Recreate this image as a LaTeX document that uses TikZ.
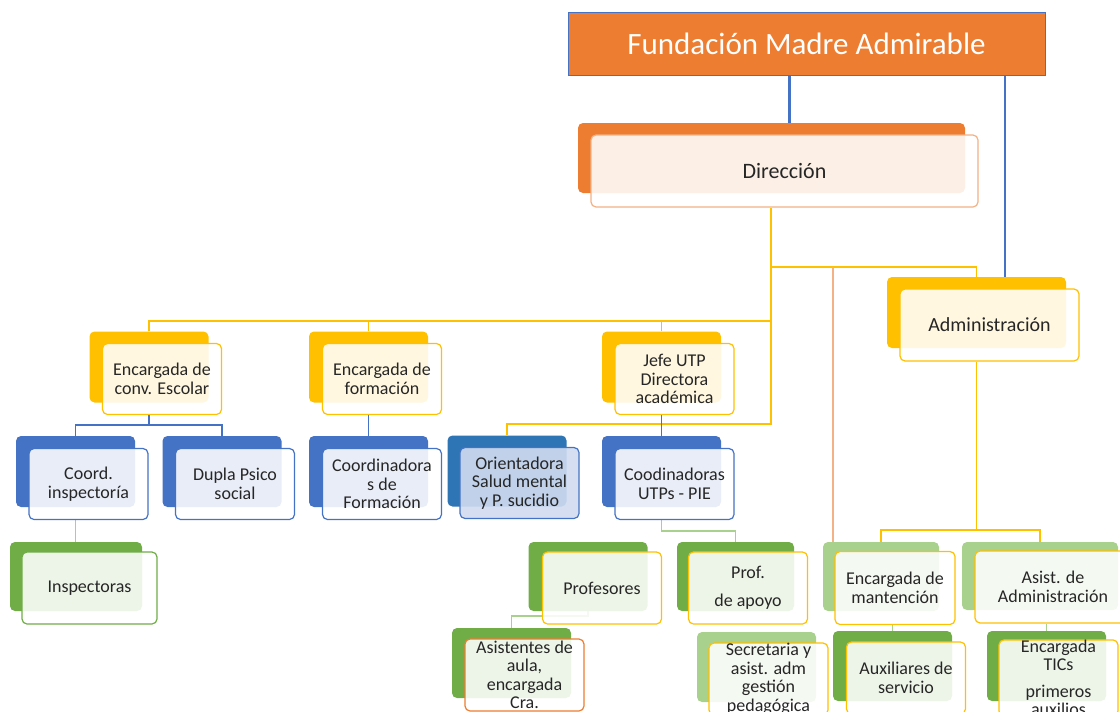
\documentclass[tikz,border=0pt]{standalone}
\usepackage{fontspec}
\setmainfont{Carlito}
\usetikzlibrary{backgrounds}

\definecolor{naranja}{HTML}{ED7D31}
\definecolor{naranjac}{HTML}{F4B183}
\definecolor{amarillo}{HTML}{FFC000}
\definecolor{azul}{HTML}{4472C4}
\definecolor{azulo}{HTML}{2E75B6}
\definecolor{azulc}{HTML}{D0DCEF}
\definecolor{verde}{HTML}{70AD47}
\definecolor{verdec}{HTML}{A9D18E}
\definecolor{texto}{HTML}{262626}

\begin{document}
\begin{tikzpicture}[x=1pt,y=-1pt,
	caja/.style={rounded corners=5pt, minimum width=119pt, minimum height=71pt, inner sep=0pt, align=center, text=texto, font=\fontsize{18}{18.5}\selectfont},
	fondo/.style={caja, fill=#1},
	frente/.style={caja, draw=#1, line width=1.2pt, fill=white, fill opacity=.88, text opacity=1},
	linea/.style={draw=#1, line width=1.6pt}]
	\useasboundingbox (0,0) rectangle (1120,712);

	\node [draw=azul, line width=.8pt, fill=naranja, minimum width=477pt, minimum height=63pt, text=white, font=\fontsize{31}{32}\selectfont] (fund) at (806.5,43.5) {Fundación Madre Admirable};

	\node [fondo=naranja, minimum width=387pt, minimum height=70pt] (dirb) at (771.5,158) {};
	\node [frente=naranjac, minimum width=387pt, minimum height=72pt, font=\fontsize{22}{24}\selectfont] (dir) at (784.5,171) {Dirección};
	\node [fondo=amarillo, minimum width=179pt] (admb) at (976.5,312.5) {};
	\node [frente=amarillo, minimum width=179pt, minimum height=72pt, font=\fontsize{20}{22}\selectfont] (adm) at (989.5,325) {Administración};

	\node [fondo=amarillo] (convb) at (149,367) {};
	\node [frente=amarillo] (conv) at (162,379) {Encargada de\\conv. Escolar};
	\node [fondo=amarillo] (formb) at (368.5,367) {};
	\node [frente=amarillo] (form) at (382,379) {Encargada de\\formación};
	\node [fondo=amarillo] (jefeb) at (661.5,367) {};
	\node [frente=amarillo] (jefe) at (674.5,379) {Jefe UTP\\Directora\\académica};

	\node [fondo=azul] (coordib) at (75.5,471.5) {};
	\node [frente=azul] (coordi) at (88.5,484) {Coord.\\inspectoría};
	\node [fondo=azul] (duplab) at (222,471.5) {};
	\node [frente=azul] (dupla) at (235,484) {Dupla Psico\\social};
	\node [fondo=azul] (coordfb) at (368.5,471.5) {};
	\node [frente=azul] (coordf) at (382,484) {Coordinadora\\s de\\Formación};
	\node [fondo=azulo] (orientb) at (507,471) {};
	\node [frente=azul, fill=azulc, fill opacity=.9] (orient) at (519.5,483) {Orientadora\\Salud mental\\y P. sucidio};
	\node [fondo=azul] (coodub) at (661.5,471.5) {};
	\node [frente=azul] (coodu) at (674.5,484) {Coodinadoras\\UTPs - PIE};

	\node [fondo=verde, minimum width=132pt, minimum height=69pt] (inspb) at (76,576.5) {};
	\node [frente=verde, minimum width=135pt, minimum height=72pt] (insp) at (89.5,588) {Inspectoras};
	\node [fondo=verde, minimum height=69pt] (profb) at (588,576.5) {};
	\node [frente=amarillo, minimum height=72pt] (prof) at (602,588) {Profesores};
	\node [fondo=verde, minimum width=117pt, minimum height=69pt] (apoyob) at (735.5,576.5) {};
	\node [frente=amarillo, minimum height=72pt] (apoyo) at (748,588) {Prof.\\[10pt]de apoyo};
	\node [fondo=verdec, minimum width=116pt, minimum height=69pt] (mantb) at (881,576.5) {};
	\node [frente=amarillo, minimum width=120pt, minimum height=73pt] (mant) at (895,588) {Encargada de\\mantención};
	\node [fondo=verdec, minimum width=156pt, minimum height=68pt] (asistb) at (1040,576) {};
	\node [frente=amarillo, minimum width=156pt, minimum height=72pt] (asist) at (1053,587) {Asist. de\\Administración};

	\node [fondo=verde, minimum height=70pt] (aulab) at (511.5,663) {};
	\node [frente=naranja, minimum height=72pt] (aula) at (524.5,675) {Asistentes de\\aula,\\encargada\\Cra.};
	\node [fondo=verdec, minimum height=70pt] (secreb) at (756.5,667) {};
	\node [frente=amarillo, minimum height=72pt] (secre) at (768.5,679) {Secretaria y\\asist. adm\\gestión\\pedagógica};
	\node [fondo=verde, minimum height=70pt] (auxb) at (892.5,666) {};
	\node [frente=amarillo, minimum height=72pt] (aux) at (906,678) {Auxiliares de\\servicio};
	\node [fondo=verde, minimum height=70pt] (ticsb) at (1046.5,666) {};
	\node [frente=amarillo, minimum height=72pt] (tics) at (1058.5,678) {Encargada\\TICs\\[8pt]primeros\\auxilios};

	\begin{scope}[on background layer]
		\draw [linea=azul, line width=2.6pt] ([xshift=18pt]dirb.north) -- ([xshift=18pt]dirb.north |- fund.south);
		\draw [linea=azul, line width=2.6pt] ([xshift=28.5pt]admb.north) -- ([xshift=28.5pt]admb.north |- fund.south);

		\coordinate (busa) at (771,321);
		\coordinate (busb) at (771,267);
		\coordinate (busc) at (771,424);
		\draw [linea=amarillo] (busa |- dir.south) -- (busc) -| (orientb.north);
		\draw [linea=amarillo] (convb.north) |- (busa);
		\draw [linea=amarillo] (formb.north) -- (formb.north |- busa);
		\draw [linea=amarillo] (jefeb.north) -- (jefeb.north |- busa);
		\draw [linea=amarillo] (busb) -| (admb.north);

		\coordinate (rama) at (833,267);
		\draw [linea=naranjac, line width=2pt] (rama) |- (mantb.west |- mant.west);

		\coordinate (busd) at (976.5,530);
		\draw [linea=amarillo] (admb.south |- adm.south) -- (busd);
		\draw [linea=amarillo] (mantb.north) |- (busd) -| (asistb.north);

		\coordinate (buse) at (149,425);
		\draw [linea=azul] (convb.south |- conv.south) -- (buse);
		\draw [linea=azul] (coordib.north) |- (buse) -| (duplab.north);
		\draw [linea=azul] (formb.south |- form.south) -- (coordfb.north);
		\draw [linea=azul] (jefeb.south |- jefe.south) -- (coodub.north);

		\coordinate (busf) at (661.5,531);
		\draw [linea=verdec] (coordib.south |- coordi.south) -- (coordib.south |- inspb.north);
		\draw [linea=verdec] (coodub.south |- coodu.south) -- (busf) -| (apoyob.north);
		\draw [linea=verdec] (profb.south) -- ++(0,5) -| (aulab.north);
		\draw [linea=verdec] (mant.south -| auxb.north) -- (auxb.north);
		\draw [linea=verdec] (asist.south -| ticsb.north) -- (ticsb.north);
	\end{scope}
\end{tikzpicture}
\end{document}
